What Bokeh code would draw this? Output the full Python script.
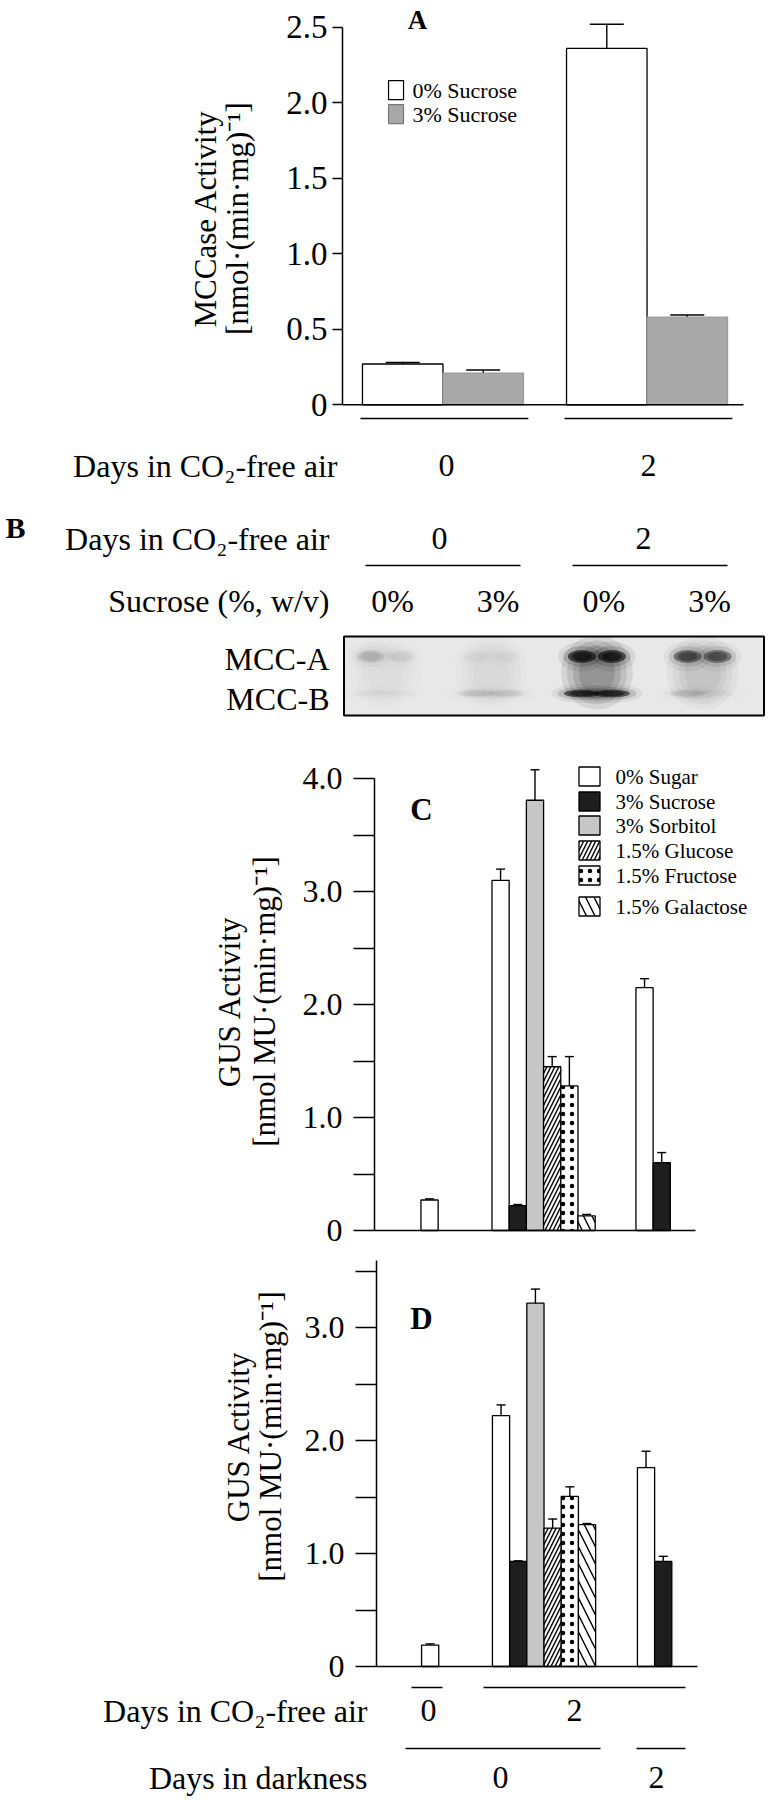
import numpy as np
from bokeh.plotting import figure
from bokeh.layouts import column
from bokeh.models import (ColumnDataSource, Range1d, FixedTicker, CustomJSTickFormatter,
                          Label, Whisker, TeeHead)
from bokeh.embed import file_html
from bokeh.resources import INLINE

SERIF = "Liberation Serif"

# ---------------- data ----------------
# Panel A : MCCase activity
A_DAYS = ["0", "2"]
A_SERIES = ["0% Sucrose", "3% Sucrose"]
A_SUC0 = [0.27, 2.36]
A_SUC0_ERR = [0.01, 0.16]
A_SUC3 = [0.21, 0.58]
A_SUC3_ERR = [0.02, 0.015]
A_TICKS = [0, 0.5, 1.0, 1.5, 2.0, 2.5]

# Panel B : immunoblot (relative band intensity, left/right half of each lane)
B_DAYS = ["0", "2"]
B_SUCROSE = ["0%", "3%", "0%", "3%"]
B_BANDS = ["MCC-A", "MCC-B"]
GEL_MCCA = [[0.17, 0.07], [0.03, 0.03], [1.0, 1.0], [0.68, 0.62]]
GEL_MCCB = [[0.03, 0.02], [0.11, 0.10], [0.92, 0.92], [0.13, 0.03]]
GEL_SMEAR = [0.03, 0.04, 0.28, 0.11]

# Panels C and D : GUS activity
SUGARS = ["0% Sugar", "3% Sucrose", "3% Sorbitol", "1.5% Glucose", "1.5% Fructose", "1.5% Galactose"]
CO2_DAYS = ["0", "2"]
DARK_DAYS = ["0", "2"]

C_SUGAR0 = [0.27, 3.10, 2.15]
C_SUGAR0_ERR = [0.01, 0.10, 0.08]
C_SUCROSE = [None, 0.22, 0.60]
C_SUCROSE_ERR = [None, 0.01, 0.09]
C_SORBITOL = [None, 3.81, None]
C_SORBITOL_ERR = [None, 0.27, None]
C_GLUCOSE = [None, 1.45, None]
C_GLUCOSE_ERR = [None, 0.09, None]
C_FRUCTOSE = [None, 1.28, None]
C_FRUCTOSE_ERR = [None, 0.26, None]
C_GALACTOSE = [None, 0.13, None]
C_GALACTOSE_ERR = [None, 0.012, None]

D_SUGAR0 = [0.19, 2.22, 1.76]
D_SUGAR0_ERR = [0.01, 0.095, 0.145]
D_SUCROSE = [None, 0.93, 0.93]
D_SUCROSE_ERR = [None, 0.005, 0.045]
D_SORBITOL = [None, 3.215, None]
D_SORBITOL_ERR = [None, 0.125, None]
D_GLUCOSE = [None, 1.225, None]
D_GLUCOSE_ERR = [None, 0.08, None]
D_FRUCTOSE = [None, 1.505, None]
D_FRUCTOSE_ERR = [None, 0.085, None]
D_GALACTOSE = [None, 1.255, None]
D_GALACTOSE_ERR = [None, 0.01, None]

# ---------------- styles ----------------
SERIES_STYLE = [
    dict(fill_color="white", hatch_pattern=None, hatch_scale=8, hatch_weight=1.4),
    dict(fill_color="#1e1e1e", hatch_pattern=None, hatch_scale=8, hatch_weight=1.4),
    dict(fill_color="#c6c6c6", hatch_pattern=None, hatch_scale=8, hatch_weight=1.4),
    dict(fill_color="white", hatch_pattern="right_diagonal_line", hatch_scale=8, hatch_weight=1.4),
    dict(fill_color="white", hatch_pattern="dot", hatch_scale=9, hatch_weight=0.5),
    dict(fill_color="white", hatch_pattern="left_diagonal_line", hatch_scale=17, hatch_weight=1.4),
]

TICK_FMT = CustomJSTickFormatter(code="return tick == 0 ? '0' : tick.toFixed(1);")
PAGE_W = 773


def base_fig(height, xr, yr, yaxis=False):
    p = figure(width=PAGE_W, height=height, x_range=xr, y_range=yr,
               output_backend="svg", toolbar_location=None,
               x_axis_location=None, y_axis_location="left" if yaxis else None,
               min_border=0, min_border_left=0, min_border_right=0,
               min_border_top=0, min_border_bottom=0)
    p.grid.visible = False
    p.outline_line_color = None
    p.background_fill_color = "white"
    p.border_fill_color = "white"
    return p


def style_yaxis(ax, ticks, minor, bounds, tick_out, standoff, size):
    ax.fixed_location = 0
    ax.ticker = FixedTicker(ticks=ticks, minor_ticks=minor)
    ax.bounds = bounds
    ax.formatter = TICK_FMT
    ax.axis_line_color = "black"
    ax.axis_line_width = 1.5
    ax.major_tick_in = 0
    ax.major_tick_out = tick_out
    ax.major_tick_line_width = 1.5
    ax.major_tick_line_color = "black"
    ax.minor_tick_in = 0
    ax.minor_tick_out = tick_out
    ax.minor_tick_line_width = 1.5
    ax.minor_tick_line_color = "black" if minor else None
    ax.major_label_text_font = SERIF
    ax.major_label_text_font_size = size
    ax.major_label_text_color = "black"
    ax.major_label_standoff = standoff


def label(p, x, y, text, size, align="center", baseline="middle", bold=False, angle=0.0):
    p.add_layout(Label(x=x, y=y, text=text, text_font=SERIF, text_font_size=size,
                       text_align=align, text_baseline=baseline, angle=angle,
                       text_font_style="bold" if bold else "normal", text_color="black"))


# ================= Panel A =================
A_PX = 80.5                      # px per bar
A_AXIS_X = 342                   # page x of the y axis
A_ZERO, A_K = 404.3, 151.04      # page y of 0 and px per unit
A_TOP, A_BOT = 0, 430
fa = base_fig(A_BOT - A_TOP,
              Range1d(-A_AXIS_X / A_PX, (PAGE_W - A_AXIS_X) / A_PX),
              Range1d(-(A_BOT - A_ZERO) / A_K, (A_ZERO - A_TOP) / A_K), yaxis=True)
style_yaxis(fa.yaxis[0], A_TICKS, [], (0, 2.5), 10, 5, "33px")

A_GROUP_START = [0.248, 2.783]
a_vals = [(A_SUC0, A_SUC0_ERR, "white", "black"), (A_SUC3, A_SUC3_ERR, "#a8a8a8", "#9a9a9a")]
for i, (vals, errs, fcol, lcol) in enumerate(a_vals):
    xs = [A_GROUP_START[g] + i + 0.5 for g in range(len(A_DAYS))]
    src = ColumnDataSource(dict(x=xs, top=vals, upper=[v + e for v, e in zip(vals, errs)]))
    fa.vbar(x="x", top="top", bottom=0, width=1.0, source=src, fill_color=fcol,
            line_color=lcol, line_width=1.3)
    fa.add_layout(Whisker(source=src, base="x", lower="top", upper="upper", dimension="height",
                          line_color="black", line_width=1.4, lower_head=None,
                          upper_head=TeeHead(size=34, line_color="black", line_width=1.4)))
fa.segment(x0=[0], x1=[(743 - A_AXIS_X) / A_PX], y0=[0], y1=[0], line_color="black", line_width=1.5)
fa.segment(x0=[s - 0.025 for s in A_GROUP_START], x1=[s + 2.06 for s in A_GROUP_START],
           y0=-0.09, y1=-0.09, line_color="black", line_width=1.5)
# legend
leg_y = [2.084, 1.925]
fa.rect(x=[0.665, 0.665], y=leg_y, width=15, height=19, width_units="screen",
        height_units="screen", fill_color=["white", "#a8a8a8"], line_color=["black", "#777777"],
        line_width=1.2)
for name, yy in zip(A_SERIES, leg_y):
    label(fa, 0.870, yy, name, "22px", align="left")
label(fa, 0.932, 2.547, "A", "27px", bold=True)
label(fa, -1.702, 1.233, "MCCase Activity", "31px", angle=np.pi / 2)
label(fa, -1.304, 1.233, "[nmol\u00b7(min\u00b7mg)\u207b\u00b9]", "31px", angle=np.pi / 2)

# ================= Panel B (pixel frame) =================
fb = base_fig(292, Range1d(0, PAGE_W), Range1d(722, 430))
label(fb, 337, 465, "Days in CO\u2082-free air", "32px", align="right")
label(fb, 446, 465, A_DAYS[0], "32px")
label(fb, 648, 465, A_DAYS[1], "32px")
label(fb, 15, 527, "B", "30px", bold=True)
label(fb, 329, 538, "Days in CO\u2082-free air", "32px", align="right")
label(fb, 439, 538, B_DAYS[0], "32px")
label(fb, 643, 538, B_DAYS[1], "32px")
fb.segment(x0=[365, 572], x1=[520, 727], y0=565, y1=565, line_color="black", line_width=1.5)
label(fb, 329, 600, "Sucrose (%, w/v)", "32px", align="right")
LANE_LABEL_X0, LANE_STEP = 392, 105.7
for i, s in enumerate(B_SUCROSE):
    label(fb, LANE_LABEL_X0 + i * LANE_STEP, 600, s, "32px")
# gel
GEL_BOX = (553.5, 675.5, 420, 79)
fb.rect(x=[GEL_BOX[0]], y=[GEL_BOX[1]], width=[GEL_BOX[2]], height=[GEL_BOX[3]],
        fill_color="#e8e8e8", line_color=None)
GEL_X0 = 385
BAND_Y = [656, 693]
BAND_W = [28, 36]
BAND_H = [13, 8]
rx, ry, rw, rh, ra = [], [], [], [], []
for i in range(4):
    lx = GEL_X0 + i * LANE_STEP
    for sw, sh, am in [(72, 74, 0.3), (60, 64, 0.35), (48, 54, 0.4), (36, 44, 0.4)]:
        rx.append(lx); ry.append(672); rw.append(sw); rh.append(sh); ra.append(GEL_SMEAR[i] * am)
fb.ellipse(x=rx, y=ry, width=rw, height=rh, fill_color="black", fill_alpha=ra, line_color=None)
ex, ey, ew, eh, ea = [], [], [], [], []
BLUR = [(1.7, 2.3, 0.07), (1.35, 1.6, 0.15), (1.0, 1.0, 0.6), (0.7, 0.7, 0.5)]
for b, band in enumerate([GEL_MCCA, GEL_MCCB]):
    for i in range(4):
        lx = GEL_X0 + i * LANE_STEP
        for s, side in enumerate([-1, 1]):
            inten = band[i][s]
            for sw, sh, am in BLUR:
                ex.append(lx + side * 15); ey.append(BAND_Y[b])
                ew.append(BAND_W[b] * sw); eh.append(BAND_H[b] * sh); ea.append(inten * am)
fb.ellipse(x=ex, y=ey, width=ew, height=eh, fill_color="black", fill_alpha=ea, line_color=None)
fb.rect(x=[GEL_BOX[0]], y=[GEL_BOX[1]], width=[GEL_BOX[2]], height=[GEL_BOX[3]],
        fill_color=None, line_color="black", line_width=2)
label(fb, 329, 658, B_BANDS[0], "32px", align="right")
label(fb, 329, 698, B_BANDS[1], "32px", align="right")


def gus_panel(top, bottom, axis_x, zero_y, k, group_start, axis_end_x, series,
              y_ticks, y_minor, y_bounds, letter, letter_xy, title_x, title_y, legend):
    px = 17.2
    p = base_fig(bottom - top, Range1d(-axis_x / px, (PAGE_W - axis_x) / px),
                 Range1d(-(bottom - zero_y) / k, (zero_y - top) / k), yaxis=True)
    style_yaxis(p.yaxis[0], y_ticks, y_minor, y_bounds, 21, 11, "32px")
    for i, (vals, errs) in enumerate(series):
        st = SERIES_STYLE[i]
        xs, tops, ups = [], [], []
        for g, (v, e) in enumerate(zip(vals, errs)):
            if v is None:
                continue
            xs.append(group_start[g] + i + 0.5)
            tops.append(v)
            ups.append(v + e)
        src = ColumnDataSource(dict(x=xs, top=tops, upper=ups))
        kw = dict(fill_color=st["fill_color"], line_color="black", line_width=1.3)
        if st["hatch_pattern"]:
            kw.update(hatch_pattern=st["hatch_pattern"], hatch_scale=st["hatch_scale"],
                      hatch_color="black", hatch_weight=st["hatch_weight"])
        p.vbar(x="x", top="top", bottom=0, width=1.0, source=src, **kw)
        p.add_layout(Whisker(source=src, base="x", lower="top", upper="upper",
                             dimension="height", line_color="black", line_width=1.4,
                             lower_head=None,
                             upper_head=TeeHead(size=9, line_color="black", line_width=1.4)))
    p.segment(x0=[0], x1=[(axis_end_x - axis_x) / px], y0=[0], y1=[0],
              line_color="black", line_width=1.5)
    label(p, (letter_xy[0] - axis_x) / px, (zero_y - letter_xy[1]) / k, letter, "31px", bold=True)
    ty = (zero_y - title_y) / k
    label(p, (title_x[0] - axis_x) / px, ty, "GUS Activity", "31px", angle=np.pi / 2)
    label(p, (title_x[1] - axis_x) / px, ty, "[nmol MU\u00b7(min\u00b7mg)\u207b\u00b9]", "31px",
          angle=np.pi / 2)
    if legend is not None:
        bx, tx, rows = legend
        for i, name in enumerate(SUGARS):
            st = SERIES_STYLE[i]
            kw = dict(fill_color=st["fill_color"], line_color="black", line_width=1.3)
            if st["hatch_pattern"]:
                kw.update(hatch_pattern=st["hatch_pattern"], hatch_scale=st["hatch_scale"],
                          hatch_color="black", hatch_weight=st["hatch_weight"])
            yy = (zero_y - rows[i]) / k
            p.rect(x=[(bx - axis_x) / px], y=[yy], width=21, height=19, width_units="screen",
                   height_units="screen", **kw)
            label(p, (tx - axis_x) / px, yy, name, "21px", align="left")
    return p


c_series = [(C_SUGAR0, C_SUGAR0_ERR), (C_SUCROSE, C_SUCROSE_ERR), (C_SORBITOL, C_SORBITOL_ERR),
            (C_GLUCOSE, C_GLUCOSE_ERR), (C_FRUCTOSE, C_FRUCTOSE_ERR), (C_GALACTOSE, C_GALACTOSE_ERR)]
d_series = [(D_SUGAR0, D_SUGAR0_ERR), (D_SUCROSE, D_SUCROSE_ERR), (D_SORBITOL, D_SORBITOL_ERR),
            (D_GLUCOSE, D_GLUCOSE_ERR), (D_FRUCTOSE, D_FRUCTOSE_ERR), (D_GALACTOSE, D_GALACTOSE_ERR)]

fc = gus_panel(722, 1250, 374, 1230, 112.93, [2.70, 6.83, 15.20], 695, c_series,
               [0, 1, 2, 3, 4], [0.5, 1.5, 2.5, 3.5], (0, 4.0), "C", (421, 809),
               (229, 264), 1001, (589, 615, [776, 801, 825, 850, 875, 906]))

fd = gus_panel(1250, 1684, 376, 1666, 113.0, [2.62, 6.74, 15.17], 697, d_series,
               [0, 1, 2, 3], [0.5, 1.5, 2.5, 3.5], (0, 3.59), "D", (421, 1318),
               (238, 270), 1436, None)

# ================= bottom annotation (pixel frame) =================
fe = base_fig(116, Range1d(0, PAGE_W), Range1d(1800, 1684))
fe.segment(x0=[411, 483], x1=[442, 685], y0=1687, y1=1687, line_color="black", line_width=1.5)
label(fe, 367, 1710, "Days in CO\u2082-free air", "32px", align="right")
label(fe, 428, 1710, CO2_DAYS[0], "32px")
label(fe, 574, 1710, CO2_DAYS[1], "32px")
fe.segment(x0=[405, 636], x1=[600, 685], y0=1748, y1=1748, line_color="black", line_width=1.5)
label(fe, 367, 1777, "Days in darkness", "32px", align="right")
label(fe, 500, 1777, DARK_DAYS[0], "32px")
label(fe, 656, 1777, DARK_DAYS[1], "32px")

layout = column(fa, fb, fc, fd, fe, spacing=0)
open("out.html", "w").write(file_html(layout, INLINE))
